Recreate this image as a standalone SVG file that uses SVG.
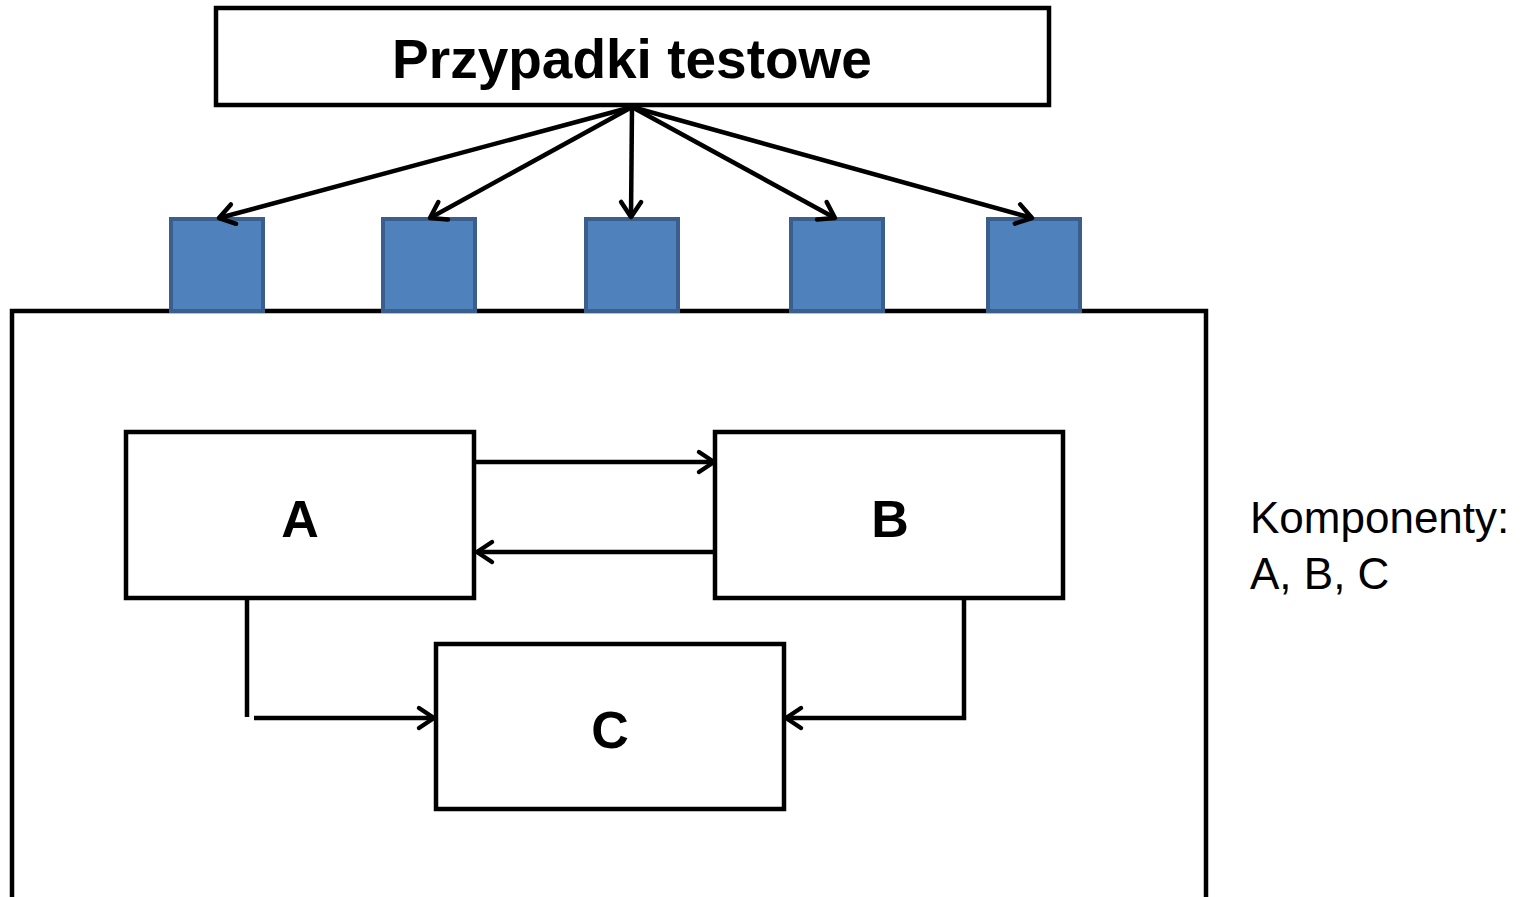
<svg xmlns="http://www.w3.org/2000/svg" width="1526" height="897" viewBox="0 0 1526 897">
  <style>
    .box { fill: #ffffff; stroke: #000000; stroke-width: 4.5; }
    .port { fill: #4f81bd; stroke: #3a5f8d; stroke-width: 4; }
    .wire { fill: none; stroke: #000000; stroke-width: 4.5; }
    .title { font-family: "Liberation Sans", Arial, sans-serif; font-weight: bold; font-size: 55px; fill: #000; text-anchor: middle; }
    .label { font-family: "Liberation Sans", Arial, sans-serif; font-weight: bold; font-size: 52px; fill: #000; text-anchor: middle; }
    .note { font-family: "Liberation Sans", Arial, sans-serif; font-size: 44px; fill: #000; }
  </style>
  <defs>
    <marker id="arrow" markerUnits="userSpaceOnUse" markerWidth="40" markerHeight="40" viewBox="-20 -20 40 40" refX="0" refY="0" orient="auto">
      <path d="M-15,-10 L0,0 L-15,10" fill="none" stroke="#000" stroke-width="4.5" stroke-linecap="round" stroke-linejoin="round"/>
    </marker>
  </defs>

  <rect width="1526" height="897" fill="#ffffff"/>

  <!-- system boundary, open at the bottom -->
  <g id="system">
    <path class="wire" d="M12,899 L12,311 L1206,311 L1206,899"/>
  </g>

  <g id="test-cases">
    <rect class="box" x="216" y="8" width="833" height="97"/>
    <text class="title" x="632" y="78">Przypadki testowe</text>
  </g>

  <!-- test interface ports on the system boundary -->
  <g id="port1"><rect class="port" x="171" y="219" width="92" height="92"/></g>
  <g id="port2"><rect class="port" x="383" y="219" width="92" height="92"/></g>
  <g id="port3"><rect class="port" x="586" y="219" width="92" height="92"/></g>
  <g id="port4"><rect class="port" x="791" y="219" width="92" height="92"/></g>
  <g id="port5"><rect class="port" x="988" y="219" width="92" height="92"/></g>

  <g id="comp-a">
    <rect class="box" x="126" y="432" width="348" height="166"/>
    <text class="label" x="300" y="537">A</text>
  </g>
  <g id="comp-b">
    <rect class="box" x="715" y="432" width="348" height="166"/>
    <text class="label" x="890" y="537">B</text>
  </g>
  <g id="comp-c">
    <rect class="box" x="436" y="644" width="348" height="165"/>
    <text class="label" x="610" y="748">C</text>
  </g>

  <g id="connectors">
    <!-- test cases to ports -->
    <line class="wire" x1="632" y1="107" x2="219" y2="218" marker-end="url(#arrow)"/>
    <line class="wire" x1="632" y1="107" x2="430" y2="218" marker-end="url(#arrow)"/>
    <line class="wire" x1="632" y1="107" x2="631" y2="217" marker-end="url(#arrow)"/>
    <line class="wire" x1="632" y1="107" x2="835" y2="218" marker-end="url(#arrow)"/>
    <line class="wire" x1="632" y1="107" x2="1032" y2="218" marker-end="url(#arrow)"/>
    <!-- A <-> B -->
    <line class="wire" x1="476" y1="462" x2="714" y2="462" marker-end="url(#arrow)"/>
    <line class="wire" x1="713" y1="552" x2="477" y2="552" marker-end="url(#arrow)"/>
    <!-- A -> C -->
    <line class="wire" x1="247" y1="600" x2="247" y2="717"/>
    <line class="wire" x1="254" y1="718" x2="434" y2="718" marker-end="url(#arrow)"/>
    <!-- B -> C -->
    <polyline class="wire" points="964,600 964,718 786,718" marker-end="url(#arrow)"/>
  </g>

  <g id="legend">
    <text class="note" x="1250" y="533">Komponenty:</text>
    <text class="note" x="1250" y="589">A, B, C</text>
  </g>
</svg>
